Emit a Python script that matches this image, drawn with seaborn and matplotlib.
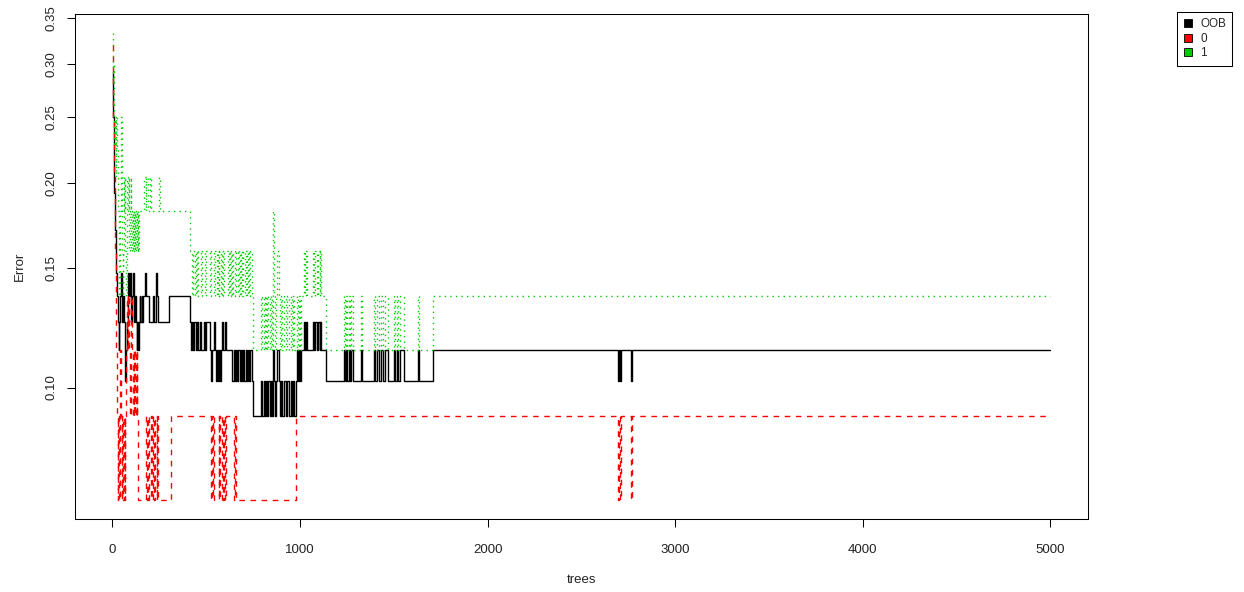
import numpy as np
import pandas as pd
import matplotlib
matplotlib.use("Agg")
import matplotlib.pyplot as plt
import seaborn as sns
from matplotlib.lines import Line2D
from matplotlib.ticker import FixedLocator, NullLocator

# (tree, error) at each point where the error rate changes
oob_points = [
    (1, .2903), (3, .2703), (5, .25), (7, .2273), (9, .2045), (11, .1932), (13, .1818),
    (16, .1705), (19, .1591), (22, .1477), (26, .1364), (30, .125), (34, .1136), (38, .125),
    (42, .1364), (46, .1477), (50, .1364), (54, .125), (58, .1364), (62, .125), (66, .1136),
    (70, .1023), (74, .1136), (78, .125), (82, .1364), (86, .1477), (90, .1364), (94, .1477),
    (98, .1364), (102, .125), (106, .1364), (110, .1477), (114, .1364), (118, .125),
    (122, .1364), (126, .125), (130, .1136), (134, .125), (138, .1136), (142, .125),
    (146, .1364), (150, .125), (156, .1364), (160, .125), (166, .1364), (176, .1477),
    (180, .1364), (197, .125), (215, .1364), (220, .125), (234, .1477), (240, .1364),
    (245, .125), (303, .1364), (415, .125),
    (420, .1136), (425, .125), (430, .1136), (436, .125), (447, .1136), (452, .125),
    (458, .1136), (465, .125), (473, .1136), (487, .125), (492, .1136), (500, .125),
    (520, .1136), (525, .1023), (532, .1136), (540, .125), (545, .1136), (550, .1023),
    (556, .1136), (562, .1023), (568, .1136), (574, .1023), (580, .1136), (586, .125),
    (592, .1136), (600, .125), (606, .1136), (640, .1023), (646, .1136), (652, .1023),
    (660, .1136), (666, .1023), (672, .1136), (678, .1023), (684, .1136), (690, .1023),
    (696, .1136), (702, .1023), (710, .1136), (716, .1023), (724, .1136), (730, .1023),
    (736, .1136), (742, .1023),
    (750, .0909), (793, .1023), (800, .0909), (806, .1023), (812, .0909), (818, .1023),
    (825, .0909), (832, .1023), (840, .0909), (846, .1023), (852, .0909), (856, .1136),
    (860, .1023), (866, .0909), (872, .1023), (880, .1136), (886, .1023), (892, .0909),
    (900, .1023), (906, .0909), (915, .1023), (925, .0909), (932, .1023), (940, .0909),
    (950, .1023), (956, .0909), (962, .1023), (968, .0909),
    (979, .1023), (985, .1136), (990, .1023), (996, .1136), (1000, .1023), (1005, .1136),
    (1021, .125), (1025, .1136), (1030, .125), (1037, .1136), (1069, .125), (1075, .1136),
    (1080, .125), (1090, .1136), (1095, .125), (1105, .1136), (1108, .125), (1112, .1136),
    (1138, .1023), (1234, .1136), (1240, .1023), (1246, .1136), (1252, .1023), (1260, .1136),
    (1268, .1023), (1274, .1136), (1282, .1023), (1325, .1136), (1328, .1023), (1394, .1136),
    (1400, .1023), (1412, .1136), (1420, .1023), (1432, .1136), (1445, .1023), (1452, .1136),
    (1468, .1023), (1500, .1136), (1508, .1023), (1515, .1136), (1525, .1023), (1535, .1136),
    (1553, .1023), (1628, .1136), (1632, .1023), (1707, .1136),
    (2697, .1023), (2702, .1136), (2706, .1023), (2713, .1136), (2766, .1023), (2770, .1136),
]

class0_points = [
    (1, .32), (2, .2941), (4, .2727), (6, .25), (8, .2273), (10, .2045), (12, .1818),
    (14, .1591), (17, .1364), (20, .1136), (24, .0909), (28, .0682), (32, .0909), (36, .0682),
    (40, .0909), (43, .1136), (46, .0909), (49, .0682), (53, .0909), (57, .0682), (61, .0909),
    (65, .0682), (70, .0909), (74, .1136), (78, .1364), (82, .1136), (86, .1364), (90, .1136),
    (94, .0909), (98, .1136), (102, .1364), (106, .1136), (110, .0909), (114, .1136),
    (118, .0909), (122, .1136), (126, .0909), (130, .1136), (134, .0909), (138, .0682),
    (181, .0909), (186, .0682), (192, .0909), (197, .0682), (204, .0909), (210, .0682),
    (216, .0909), (222, .0682), (228, .0909), (236, .0682), (240, .0909), (245, .0682),
    (312, .0909), (527, .0682), (531, .0909), (536, .0682), (543, .0909), (566, .0682),
    (570, .0909), (576, .0682), (582, .0909), (588, .0682), (594, .0909), (600, .0682),
    (606, .0909), (649, .0682), (653, .0909), (658, .0682), (979, .0909),
    (2697, .0682), (2702, .0909), (2706, .0682), (2713, .0909), (2766, .0682), (2770, .0909),
]

class1_points = [
    (1, .3333), (3, .2857), (5, .30), (7, .25), (10, .2273), (13, .25), (17, .2045),
    (20, .25), (24, .2273), (28, .2045), (31, .1818), (34, .1591), (37, .1364), (40, .1591),
    (43, .1818), (46, .25), (49, .2045), (52, .1591), (55, .1364), (58, .1591), (61, .2045),
    (64, .1818), (67, .2045), (70, .1591), (73, .1364), (76, .1591), (79, .2045), (83, .1818),
    (87, .2045), (91, .1591), (95, .1818), (99, .2045), (102, .1591), (105, .1818),
    (108, .1591), (111, .1818), (114, .1591), (117, .1818), (120, .1591), (123, .1818),
    (126, .1591), (129, .1818), (132, .1591), (135, .1818), (138, .1591), (141, .1818),
    (170, .2045), (178, .1818), (182, .2045), (188, .1818), (200, .2045), (207, .1818),
    (248, .2045), (253, .1818), (415, .1591),
    (425, .1364), (430, .1591), (440, .1364), (446, .1591), (452, .1364), (458, .1591),
    (470, .1364), (476, .1591), (492, .1364), (498, .1591), (520, .1364), (527, .1591),
    (540, .1364), (545, .1591), (556, .1364), (561, .1591), (566, .1364), (571, .1591),
    (578, .1364), (584, .1591), (590, .1364), (595, .1591), (615, .1364), (620, .1591),
    (628, .1364), (633, .1591), (640, .1364), (645, .1591), (652, .1364), (658, .1591),
    (668, .1364), (673, .1591), (680, .1364), (686, .1591), (692, .1364), (698, .1591),
    (705, .1364), (710, .1591), (716, .1364), (722, .1591), (728, .1364), (733, .1591),
    (742, .1364),
    (750, .1136), (793, .1364), (800, .1136), (806, .1364), (812, .1136), (818, .1364),
    (825, .1136), (832, .1364), (840, .1136), (846, .1364), (852, .1136), (856, .1818),
    (860, .1364), (866, .1136), (872, .1364), (880, .1591), (886, .1364), (892, .1136),
    (900, .1364), (906, .1136), (915, .1364), (925, .1136), (932, .1364), (940, .1136),
    (950, .1364), (956, .1136), (962, .1364), (968, .1136),
    (985, .1364), (990, .1136), (996, .1364), (1000, .1136), (1005, .1364),
    (1021, .1591), (1025, .1364), (1030, .1591), (1037, .1364), (1069, .1591), (1075, .1364),
    (1080, .1591), (1090, .1364), (1095, .1591), (1105, .1364), (1108, .1591), (1112, .1364),
    (1138, .1136), (1234, .1364), (1240, .1136), (1246, .1364), (1252, .1136), (1260, .1364),
    (1268, .1136), (1274, .1364), (1282, .1136), (1325, .1364), (1328, .1136), (1394, .1364),
    (1400, .1136), (1412, .1364), (1420, .1136), (1432, .1364), (1445, .1136), (1452, .1364),
    (1468, .1136), (1500, .1364), (1508, .1136), (1515, .1364), (1525, .1136), (1535, .1364),
    (1553, .1136), (1628, .1364), (1632, .1136), (1707, .1364),
]

ntree = 5000
series_names = ["OOB", "0", "1"]
series_colors = ["black", "red", "#00CD00"]
y_ticks = [0.10, 0.15, 0.20, 0.25, 0.30, 0.35]
x_ticks = [0, 1000, 2000, 3000, 4000, 5000]

frames = []
for name, pts in zip(series_names, [oob_points, class0_points, class1_points]):
    t, e = zip(*pts)
    t = list(t) + [ntree]
    e = list(e) + [e[-1]]
    frames.append(pd.DataFrame({"trees": t, "Error": e, "series": name}))
df = pd.concat(frames, ignore_index=True)

sns.set_theme(style="white")
plt.rcParams["font.family"] = ["Liberation Sans", "DejaVu Sans"]

fig = plt.figure(figsize=(12.44, 5.92), dpi=100)
ax = fig.add_axes([75 / 1244, 1 - 519 / 592, (1088 - 75) / 1244, (519 - 14) / 592])

sns.lineplot(data=df, x="trees", y="Error", hue="series", style="series",
             hue_order=series_names, style_order=series_names,
             palette=dict(zip(series_names, series_colors)),
             dashes={"OOB": "", "0": (4, 4), "1": (1, 3)},
             estimator=None, sort=False, drawstyle="steps-post",
             linewidth=1.0, legend=False, ax=ax)

ax.set_yscale("log")
lo, hi = np.log(df["Error"].min()), np.log(df["Error"].max())
pad = 0.04 * (hi - lo)
ax.set_ylim(np.exp(lo - pad), np.exp(hi + pad))
ax.set_xlim(1 - 0.04 * (ntree - 1), ntree + 0.04 * (ntree - 1))

ax.yaxis.set_major_locator(FixedLocator(y_ticks))
ax.yaxis.set_minor_locator(NullLocator())
ax.set_yticklabels([f"{v:.2f}" for v in y_ticks], rotation=90, va="center")
ax.set_xticks(x_ticks)
ax.set_xticklabels([str(v) for v in x_ticks])

ax.tick_params(axis="both", which="major", direction="out", length=5.5, width=0.75,
               color="black", labelsize=9.5, labelcolor="#222222",
               bottom=True, left=True)
ax.tick_params(axis="x", pad=12.5)
ax.tick_params(axis="y", pad=7)
for s in ax.spines.values():
    s.set_visible(True)
    s.set_color("black")
    s.set_linewidth(0.75)

ax.set_xlabel("trees", fontsize=9.5, color="#222222", labelpad=13)
ax.set_ylabel("Error", fontsize=9.5, color="#222222", labelpad=14)

handles = [Line2D([], [], linestyle="none", marker="s", markersize=5.5,
                  markerfacecolor=c, markeredgecolor="black", markeredgewidth=0.6, label=n)
           for n, c in zip(series_names, series_colors)]
leg = fig.legend(handles=handles, loc="upper left",
                 bbox_to_anchor=(1177 / 1244, 1 - 12 / 592),
                 fontsize=8.5, frameon=True, fancybox=False, edgecolor="black",
                 framealpha=1, labelspacing=0.2, handlelength=0.8,
                 handletextpad=0.6, borderpad=0.55, borderaxespad=0)
leg.get_frame().set_linewidth(0.75)

fig.savefig("out.png", dpi=100)
